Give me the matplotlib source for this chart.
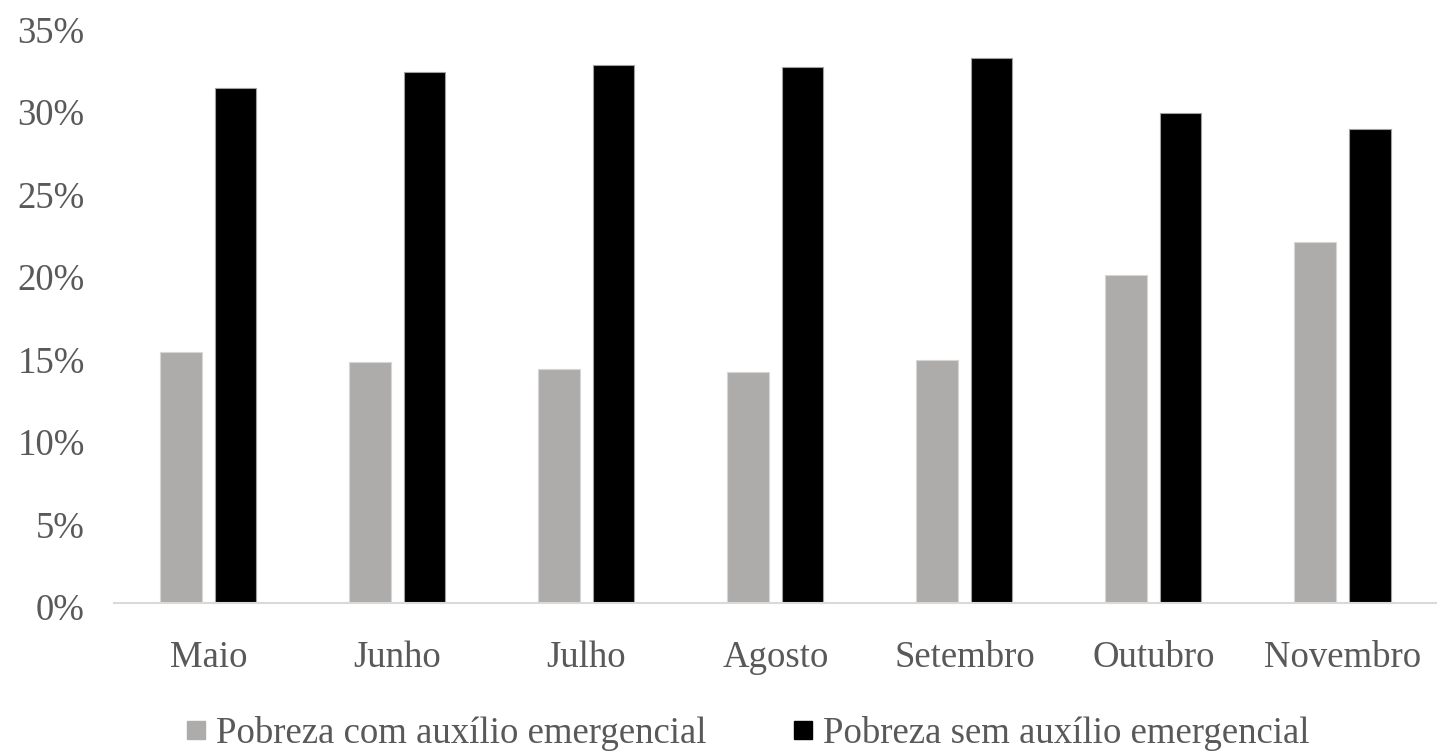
import matplotlib
matplotlib.use("Agg")
import matplotlib.pyplot as plt
import matplotlib.transforms as mtransforms
import numpy as np
from matplotlib.ticker import FuncFormatter

months = ["Maio", "Junho", "Julho", "Agosto", "Setembro", "Outubro", "Novembro"]
com_auxilio = [15.2, 14.6, 14.2, 14.0, 14.7, 19.9, 21.9]
sem_auxilio = [31.2, 32.2, 32.6, 32.5, 33.0, 29.7, 28.7]
labels = ["Pobreza com auxílio emergencial", "Pobreza sem auxílio emergencial"]

plt.rcParams['font.family'] = ['Liberation Serif', 'DejaVu Serif']
txt = '#595959'
fs = 26.5

fig = plt.figure(figsize=(14.37, 7.56), dpi=100)
ax = fig.add_axes([0.0793, 0.2024, 0.9207, 0.7639])

x = np.arange(len(months))
w = 0.222
ax.bar(x - 0.143, com_auxilio, w, color='#aeabab', edgecolor='#d6d6d6', linewidth=0.8,
       label=labels[0])
ax.bar(x + 0.143, sem_auxilio, w, color='black', edgecolor='#a0a0a0', linewidth=0.8,
       label=labels[1])

ax.set_xlim(-0.5, 6.5)
ax.set_ylim(0, 35)
ax.set_yticks(range(0, 36, 5))
ax.yaxis.set_major_formatter(FuncFormatter(lambda v, p: f"{v:.0f}%"))
ax.set_xticks(x)
ax.set_xticklabels(months)

for s in ['top', 'right', 'left']:
    ax.spines[s].set_visible(False)
ax.spines['bottom'].set_color('#d9d9d9')
ax.spines['bottom'].set_linewidth(1.5)
ax.tick_params(axis='both', length=0, labelsize=fs, labelcolor=txt)
ax.tick_params(axis='y', pad=21)
ax.tick_params(axis='x', pad=27)

# labels sit a little below the gridline in the original
shift = mtransforms.ScaledTranslation(0, -3 / 72, fig.dpi_scale_trans)
for lab in ax.get_yticklabels():
    lab.set_transform(lab.get_transform() + shift)

h1 = plt.Line2D([], [], marker='s', linestyle='', color='#aeabab', markersize=13)
h2 = plt.Line2D([], [], marker='s', linestyle='', color='black', markersize=13)
fig.legend([h1, h2], labels, loc='center', bbox_to_anchor=(0.52, 0.03), ncol=2,
           frameon=False, fontsize=fs, labelcolor=txt, handlelength=0.6,
           handletextpad=0.25, columnspacing=2.3, borderaxespad=0)

fig.savefig("out.png", dpi=100)
